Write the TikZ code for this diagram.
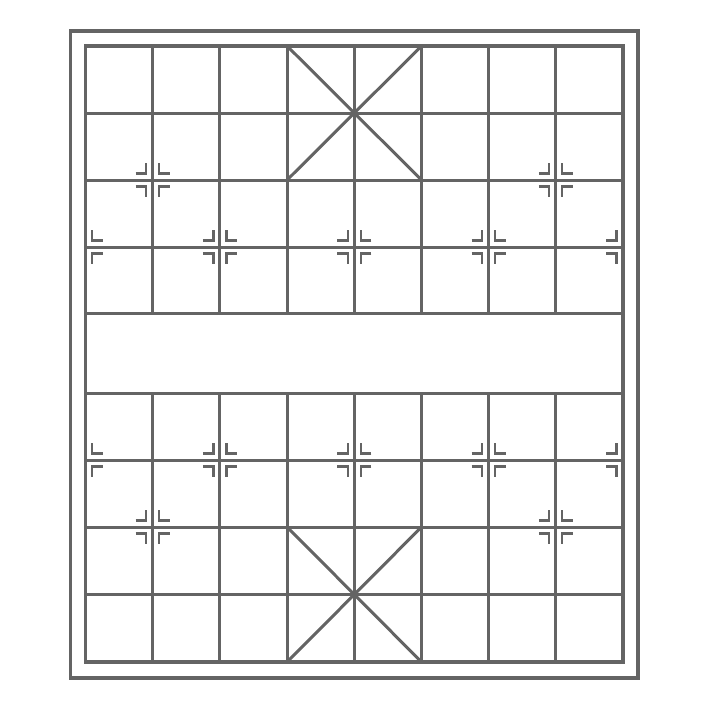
\documentclass[tikz,border=0pt]{standalone}
\usepackage{tikz}
\definecolor{boardline}{HTML}{646464}

\begin{document}
\begin{tikzpicture}[
  x=0.5pt, y=-0.5pt,
  frame/.style={draw=boardline, line width=1.6pt},
  gridline/.style={draw=boardline, line width=1.5pt},
  marker/.style={draw=boardline, line width=1.1pt}
]
  \fill[white] (0,0) rectangle (701,713);
  \useasboundingbox (0,0) rectangle (701,713);

  % outer frame and board edge
  \draw[frame] (70.5,31) rectangle (638,678);
  \draw[frame] (85.5,46) rectangle (623,662);

  % ranks
  \foreach \y in {113,180,247,313,393,460,527,594}
    \draw[gridline] (85.5,\y) -- (623,\y);

  % files (broken by the river)
  \foreach \x in {152.7,219.9,287.1,354.3,421.5,488.6,555.8} {
    \draw[gridline] (\x,46) -- (\x,313);
    \draw[gridline] (\x,393) -- (\x,662);
  }

  % palaces
  \draw[gridline] (287.1,46) -- (421.5,180) (421.5,46) -- (287.1,180);
  \draw[gridline] (287.1,527) -- (421.5,662) (421.5,527) -- (287.1,662);

  % position marks, left side of the point
  \foreach \x/\y in {152.7/180,555.8/180,219.9/247,354.3/247,488.6/247,623/247,
                     219.9/460,354.3/460,488.6/460,623/460,152.7/527,555.8/527} {
    \draw[marker] (\x-17,\y-6.5) -- (\x-6.5,\y-6.5) -- (\x-6.5,\y-17);
    \draw[marker] (\x-17,\y+6.5) -- (\x-6.5,\y+6.5) -- (\x-6.5,\y+17);
  }
  % position marks, right side of the point
  \foreach \x/\y in {152.7/180,555.8/180,85.5/247,219.9/247,354.3/247,488.6/247,
                     85.5/460,219.9/460,354.3/460,488.6/460,152.7/527,555.8/527} {
    \draw[marker] (\x+17,\y-6.5) -- (\x+6.5,\y-6.5) -- (\x+6.5,\y-17);
    \draw[marker] (\x+17,\y+6.5) -- (\x+6.5,\y+6.5) -- (\x+6.5,\y+17);
  }
\end{tikzpicture}
\end{document}
